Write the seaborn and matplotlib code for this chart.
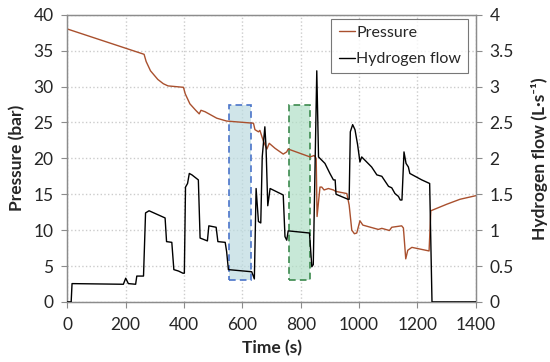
import matplotlib
matplotlib.use("Agg")
import matplotlib.pyplot as plt
import seaborn as sns
import pandas as pd
from matplotlib.patches import Rectangle

# ---- data ----
time_p = [2, 263, 270, 285, 310, 329, 345, 398, 404, 420, 440, 452, 458, 472, 512, 546,
          638, 643, 655, 660, 672, 684, 692, 712, 740, 752, 757, 832, 846, 853, 856, 866,
          872, 880, 895, 912, 920, 958, 966, 975, 984, 992, 1003, 1013, 1066, 1078, 1104,
          1112, 1146, 1152, 1160, 1167, 1181, 1240, 1246, 1300, 1346, 1400]
pressure = [38.0, 34.5, 33.5, 32.2, 31.0, 30.4, 30.1, 29.9, 29.0, 27.6, 26.7, 26.2, 26.7, 26.5, 25.6, 25.2,
            24.9, 24.0, 23.7, 23.9, 22.4, 21.3, 22.1, 21.4, 20.6, 20.9, 21.3, 20.2, 20.4, 20.0, 11.9, 16.0,
            16.0, 15.6, 15.8, 15.6, 15.4, 15.1, 13.5, 10.0, 9.5, 9.6, 11.3, 10.7, 10.1, 10.25, 9.95,
            10.4, 10.6, 10.3, 6.0, 7.2, 7.6, 7.1, 12.7, 13.6, 14.3, 14.8]

time_f = [0, 13, 16, 192, 200, 209, 234, 238, 261, 268, 280, 335, 340, 358, 365, 381, 396, 401,
          405, 412, 418, 427, 449, 455, 480, 485, 510, 516, 541, 546, 552, 632, 641, 647, 655,
          663, 668, 677, 681, 687, 695, 740, 746, 752, 757, 830, 838, 843, 855, 861, 883, 900,
          912, 918, 921, 962, 966, 970, 978, 986, 995, 1003, 1009, 1043, 1061, 1078, 1101, 1112,
          1123, 1135, 1141, 1147, 1154, 1161, 1169, 1174, 1215, 1242, 1250, 1400]
flow = [0, 0, 0.255, 0.246, 0.33, 0.255, 0.246, 0.36, 0.36, 1.24, 1.27, 1.17, 0.84, 0.83, 0.45, 0.43, 0.40, 0.40,
        1.60, 1.65, 1.79, 1.77, 1.70, 0.89, 0.85, 1.06, 1.04, 0.84, 0.83, 0.70, 0.45, 0.42, 0.32, 1.58, 1.12,
        1.10, 2.02, 2.44, 2.16, 1.34, 1.58, 1.49, 0.91, 0.86, 0.99, 0.96, 0.49, 0.52, 3.22, 2.02, 1.93, 1.79,
        1.70, 1.70, 1.50, 1.43, 1.43, 2.37, 2.47, 2.40, 2.19, 1.95, 2.02, 1.88, 1.77, 1.75, 1.61, 1.59,
        1.51, 1.47, 1.42, 1.42, 2.09, 1.93, 1.88, 1.79, 1.70, 1.65, 0.0, 0.0]

# highlighted windows (time start, time end, pressure low, pressure high)
window_blue = [555, 629, 3.0, 27.4]
window_green = [760, 832, 3.0, 27.4]

x_ticks = [0, 200, 400, 600, 800, 1000, 1200, 1400]
p_ticks = [0, 5, 10, 15, 20, 25, 30, 35, 40]
f_ticks = [0, 0.5, 1, 1.5, 2, 2.5, 3, 3.5, 4]
f_ticklabels = ["0", "0.5", "1", "1.5", "2", "2.5", "3", "3.5", "4"]

df_p = pd.DataFrame({"Time": time_p, "Pressure": pressure})
df_f = pd.DataFrame({"Time": time_f, "Flow": flow})

# ---- style ----
sns.set_theme(style="white")
plt.rcParams["font.family"] = ["Lato", "DejaVu Sans"]
fs = 12.5

red = "#a9502e"
grid_c = "#cccccc"
spine_c = "#8c8c8c"

fig = plt.figure(figsize=(5.5, 3.62), dpi=100)
ax = fig.add_axes([0.1225, 0.166, 0.7425, 0.793])
ax2 = ax.twinx()

for (x0, x1, y0, y1), fc, ec in [(window_blue, "#bcdbe0", "#4a74c9"),
                                 (window_green, "#b0dfc6", "#3c8a4e")]:
    ax.add_patch(Rectangle((x0, y0), x1 - x0, y1 - y0, facecolor=fc, alpha=0.7,
                           edgecolor="none", zorder=1.5))
    ax.add_patch(Rectangle((x0, y0), x1 - x0, y1 - y0, facecolor="none",
                           edgecolor=ec, lw=1.2, ls=(0, (4, 2.5)), zorder=1.6))

sns.lineplot(data=df_p, x="Time", y="Pressure", ax=ax, color=red, lw=1.0,
             estimator=None, sort=False, label="Pressure", legend=False, zorder=3)
sns.lineplot(data=df_f, x="Time", y="Flow", ax=ax2, color="black", lw=1.0,
             estimator=None, sort=False, label="Hydrogen flow", legend=False, zorder=3)

ax.set_xlim(0, 1400)
ax.set_ylim(0, 40)
ax2.set_ylim(0, 4)
ax.set_xticks(x_ticks)
ax.set_yticks(p_ticks)
ax2.set_yticks(f_ticks)
ax2.set_yticklabels(f_ticklabels)

ax.grid(True, color=grid_c, ls=":", lw=1.0)
ax2.grid(False)

for a in (ax, ax2):
    for s in a.spines.values():
        s.set_color(spine_c)
        s.set_linewidth(0.9)
    a.tick_params(length=4, width=0.8, color=spine_c, labelsize=fs)

ax.tick_params(axis="x", direction="out", bottom=True, pad=7)
ax.tick_params(axis="y", direction="out", left=True, pad=6)
ax2.tick_params(axis="y", direction="out", right=True, pad=6)

ax.set_xlabel("Time (s)", fontweight="bold", fontsize=fs, labelpad=5)
ax.set_ylabel("Pressure (bar)", fontweight="bold", fontsize=fs, labelpad=6)
ax2.set_ylabel("Hydrogen flow (L·s⁻¹)", fontweight="bold", fontsize=fs, labelpad=12)

h1, l1 = ax.get_legend_handles_labels()
h2, l2 = ax2.get_legend_handles_labels()
leg = ax2.legend(h1 + h2, l1 + l2, loc="upper right", bbox_to_anchor=(0.982, 0.987),
                 borderaxespad=0.0, fontsize=11.5, handlelength=1.0, handletextpad=0.1,
                 frameon=True, fancybox=False, edgecolor="#555555", borderpad=0.45,
                 labelspacing=0.75)
leg.get_frame().set_linewidth(0.8)
leg.set_zorder(20)

fig.savefig("out.png", dpi=100)
